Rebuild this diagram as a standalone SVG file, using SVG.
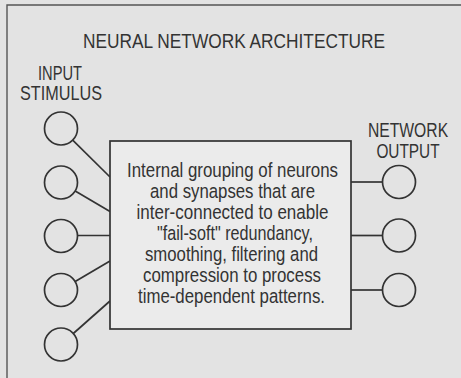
<svg xmlns="http://www.w3.org/2000/svg" width="461" height="378" viewBox="0 0 461 378">
<style>
text{font-family:"Liberation Sans",Arial,sans-serif;fill:#333;text-anchor:middle;}
.lbl{font-size:20px;}
.body{font-size:20.5px;}
.node{fill:none;stroke:#333;stroke-width:1.7;}
.conn line{stroke:#333;stroke-width:1.7;}
</style>
<rect x="0" y="0" width="461" height="378" fill="#e3e3e3"/>
<path d="M7,378 V5 H461" fill="none" stroke="#555" stroke-width="1.4"/>
<g id="title"><text class="lbl" x="234" y="47.5" textLength="302" lengthAdjust="spacingAndGlyphs">NEURAL NETWORK ARCHITECTURE</text></g>
<g id="input-label"><text class="lbl" x="60" y="80" textLength="44" lengthAdjust="spacingAndGlyphs">INPUT</text><text class="lbl" x="61" y="100" textLength="82" lengthAdjust="spacingAndGlyphs">STIMULUS</text></g>
<g id="output-label"><text class="lbl" transform="translate(408,137) scale(0.785,1)">NETWORK</text><text class="lbl" transform="translate(408,157.5) scale(0.77,1)">OUTPUT</text></g>
<g class="conn" id="connectors">
<line x1="72.7" y1="140.1" x2="110" y2="177"/>
<line x1="75.2" y1="190.9" x2="110" y2="211.5"/>
<line x1="77.5" y1="235.5" x2="110" y2="235.5"/>
<line x1="75.2" y1="281.6" x2="110" y2="261"/>
<line x1="73.3" y1="333.5" x2="110" y2="301"/>
<line x1="351" y1="182" x2="382.5" y2="182"/>
<line x1="351" y1="235.5" x2="382.5" y2="235.5"/>
<line x1="351" y1="290" x2="382.5" y2="290"/>
</g>
<g id="in1"><circle class="node" cx="61" cy="128.5" r="16.5"/></g>
<g id="in2"><circle class="node" cx="61" cy="182.5" r="16.5"/></g>
<g id="in3"><circle class="node" cx="61" cy="236" r="16.5"/></g>
<g id="in4"><circle class="node" cx="61" cy="290" r="16.5"/></g>
<g id="in5"><circle class="node" cx="61" cy="344.5" r="16.5"/></g>
<g id="out1"><circle class="node" cx="399" cy="182" r="16.5"/></g>
<g id="out2"><circle class="node" cx="399" cy="235.5" r="16.5"/></g>
<g id="out3"><circle class="node" cx="399" cy="290" r="16.5"/></g>
<g id="network">
<rect x="110" y="141" width="241" height="188" fill="#ebebeb" stroke="#333" stroke-width="1.7"/>
<text class="body" x="232.5" y="176.5" textLength="211" lengthAdjust="spacingAndGlyphs">Internal grouping of neurons</text>
<text class="body" x="232.5" y="197.5" textLength="165" lengthAdjust="spacingAndGlyphs">and synapses that are</text>
<text class="body" x="232.5" y="218.5" textLength="192" lengthAdjust="spacingAndGlyphs">inter-connected to enable</text>
<text class="body" x="235" y="239.5" textLength="156" lengthAdjust="spacingAndGlyphs">"fail-soft" redundancy,</text>
<text class="body" x="231.5" y="260.5" textLength="173" lengthAdjust="spacingAndGlyphs">smoothing, filtering and</text>
<text class="body" x="232" y="281.5" textLength="178" lengthAdjust="spacingAndGlyphs">compression to process</text>
<text class="body" x="231.5" y="302.5" textLength="187" lengthAdjust="spacingAndGlyphs">time-dependent patterns.</text>
</g>
</svg>
